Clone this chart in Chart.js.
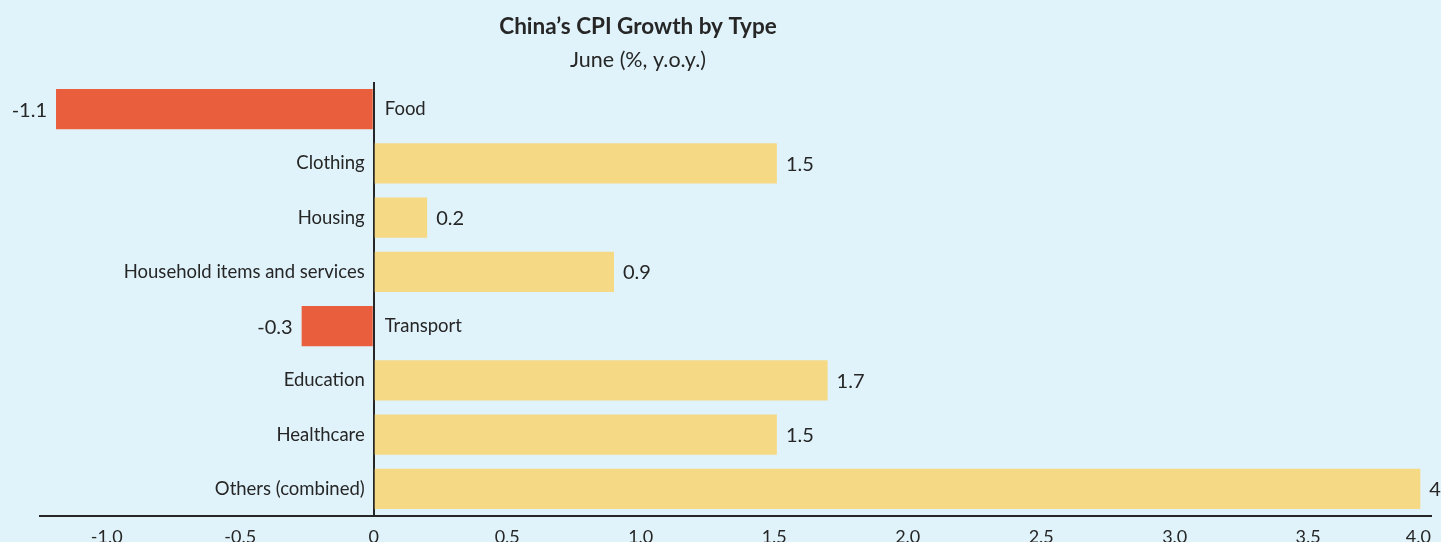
<!DOCTYPE html>
<html>
<head>
<meta charset="utf-8">
<script src="https://cdn.jsdelivr.net/npm/chart.js@4.4.0/dist/chart.umd.min.js"></script>
<style>
  html, body { margin: 0; padding: 0; background: #e0f3fa; }
  #wrap { width: 1441px; height: 542px; position: relative; }
</style>
</head>
<body>
<div id="wrap"><canvas id="grafico-cpi"></canvas></div>
<script>
// Datos
const categories = ["Food", "Clothing", "Housing", "Household items and services", "Transport", "Education", "Healthcare", "Others (combined)"];
const growthValues = [-1.19, 1.51, 0.2, 0.9, -0.27, 1.7, 1.51, 3.92];
const valueLabels = ["-1.1", "1.5", "0.2", "0.9", "-0.3", "1.7", "1.5", "4"];
const xTicks = [-1.0, -0.5, 0, 0.5, 1.0, 1.5, 2.0, 2.5, 3.0, 3.5, 4.0];
const xTickLabels = ["-1.0", "-0.5", "0", "0.5", "1.0", "1.5", "2.0", "2.5", "3.0", "3.5", "4.0"];
const titleText = "China’s CPI Growth by Type";
const subtitleText = "June (%, y.o.y.)";

const textColor = '#262626';

// Etiquetas de categorías, valores, ticks y título
const labelsPlugin = {
    id: 'labels',
    afterDatasetsDraw(chart) {
        const ctx = chart.ctx;
        const x = chart.scales.x;
        const area = chart.chartArea;
        const meta = chart.getDatasetMeta(0);
        const zero = x.getPixelForValue(0);
        ctx.save();
        ctx.fillStyle = textColor;
        ctx.textBaseline = 'middle';
        meta.data.forEach((bar, i) => {
            const v = growthValues[i];
            ctx.font = '18.5px Lato';
            if (v >= 0) {
                ctx.textAlign = 'right';
                ctx.fillText(categories[i], zero - 9, bar.y);
            } else {
                ctx.textAlign = 'left';
                ctx.fillText(categories[i], zero + 11, bar.y);
            }
            ctx.font = '20px Lato';
            if (v >= 0) {
                ctx.textAlign = 'left';
                ctx.fillText(valueLabels[i], bar.x + 9, bar.y + 1);
            } else {
                ctx.textAlign = 'right';
                ctx.fillText(valueLabels[i], bar.x - 9, bar.y + 1);
            }
        });

        // ticks del eje x (el último se ajusta al borde)
        ctx.font = '18px Lato';
        ctx.textBaseline = 'top';
        ctx.textAlign = 'center';
        xTicks.forEach((t, i) => {
            let px = x.getPixelForValue(t);
            const w = ctx.measureText(xTickLabels[i]).width;
            if (px + w / 2 > area.right) px = area.right - w / 2;
            ctx.fillText(xTickLabels[i], px, area.bottom + 12);
        });

        // título y subtítulo
        ctx.textAlign = 'center';
        ctx.textBaseline = 'alphabetic';
        ctx.font = 'bold 22.5px Lato';
        ctx.fillText(titleText, 638, 34);
        ctx.font = '21.5px Lato';
        ctx.fillText(subtitleText, 638, 67);
        ctx.restore();
    }
};

document.addEventListener("DOMContentLoaded", function () {
    const ctx = document.getElementById('grafico-cpi').getContext('2d');
    const myChart = new Chart(ctx, {
        type: 'bar',
        data: {
            labels: categories,
            datasets: [
                {
                    data: growthValues,
                    backgroundColor: growthValues.map(v => v < 0 ? '#e95f3d' : '#f6d985'),
                    borderWidth: 0,
                    barPercentage: 0.74,
                    categoryPercentage: 1
                }
            ]
        },
        options: {
            indexAxis: 'y',
            responsive: true,
            maintainAspectRatio: false,
            animation: false,
            layout: {
                padding: { left: 40, right: 10, top: 82, bottom: 26 }
            },
            plugins: {
                legend: { display: false },
                tooltip: { enabled: false }
            },
            scales: {
                x: {
                    min: -1.25,
                    max: 3.96,
                    ticks: { display: false, stepSize: 0.5 },
                    grid: {
                        drawTicks: false,
                        lineWidth: 2,
                        color: c => (c.tick && Math.abs(c.tick.value) < 1e-9) ? '#262626' : 'rgba(0,0,0,0)'
                    },
                    border: { display: true, color: '#262626', width: 2 }
                },
                y: {
                    display: false
                }
            }
        },
        plugins: [labelsPlugin]
    });
});
</script>
</body>
</html>
